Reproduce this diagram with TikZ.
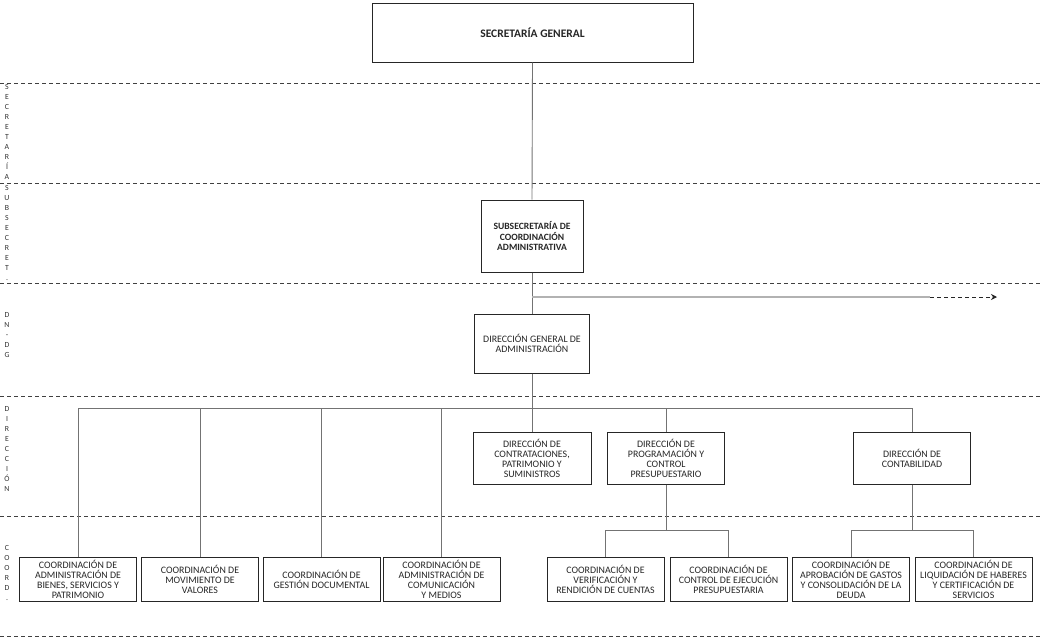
\documentclass[tikz,border=0pt]{standalone}
\usepackage{fontspec}
\setmainfont{Carlito}
\usetikzlibrary{arrows.meta}
\begin{document}
\begin{tikzpicture}[x=1pt,y=-1pt,
 box/.style={draw=black!85,line width=1pt,fill=white,align=center,inner sep=1pt,
   font=\fontsize{9.9}{10}\selectfont,text=black!85},
 bbox/.style={box,font=\fontsize{9.6}{10.5}\selectfont\bfseries},
 lane/.style={draw=black!75,dash pattern=on 4pt off 3pt,line width=0.9pt},
 conn/.style={draw=black!55,line width=0.9pt},
 side/.style={align=center,font=\fontsize{7.8}{10}\selectfont,inner sep=0pt,anchor=north,text=black!80}]
\useasboundingbox (0,0) rectangle (1040,641);
% lanes
\foreach \yy/\nm in {83/l1,183/l2,283/l3,396/l4,516/l5,636/l6}{
  \coordinate (\nm a) at (0,\yy);
  \coordinate (\nm b) at (1040,\yy);
  \draw[lane] (\nm a) -- (\nm b);
}
% side labels
\node[side] (s1) at (7,84.5) {S\\E\\C\\R\\E\\T\\A\\R\\Í\\A};
\node[side] (s2) at (7,185.5) {S\\U\\B\\S\\E\\C\\R\\E\\T\\.};
\node[side] (s3) at (7,312.5) {D\\N\\-\\D\\G};
\node[side] (s4) at (7,406.5) {D\\I\\R\\E\\C\\C\\I\\Ó\\N};
\node[side] (s5) at (7,545.5) {C\\O\\O\\R\\D\\.};
% boxes
\node[box,minimum width=321pt,minimum height=59pt,font=\fontsize{11.5}{13}\selectfont\bfseries] (sg) at (532.5,32.5) {SECRETARÍA GENERAL};
\node[bbox,minimum width=102pt,minimum height=72pt] (ssca) at (532,236) {SUBSECRETARÍA DE\\COORDINACIÓN\\ADMINISTRATIVA};
\node[box,minimum width=115pt,minimum height=59pt] (dga) at (532,343.5) {DIRECCIÓN GENERAL DE\\ADMINISTRACIÓN};
\node[box,minimum width=118pt,minimum height=52pt] (d1) at (532,458) {DIRECCIÓN DE\\CONTRATACIONES,\\PATRIMONIO Y\\SUMINISTROS};
\node[box,minimum width=117pt,minimum height=52pt] (d2) at (666,458) {DIRECCIÓN DE\\PROGRAMACIÓN Y\\CONTROL\\PRESUPUESTARIO};
\node[box,minimum width=117pt,minimum height=52pt] (d3) at (912,458) {DIRECCIÓN DE\\CONTABILIDAD};
\node[box,minimum width=117pt,minimum height=44pt] (c1) at (78,579) {COORDINACIÓN DE\\ADMINISTRACIÓN DE\\BIENES, SERVICIOS Y\\PATRIMONIO};
\node[box,minimum width=117pt,minimum height=44pt] (c2) at (200,579) {COORDINACIÓN DE\\MOVIMIENTO DE\\VALORES};
\node[box,minimum width=117pt,minimum height=44pt] (c3) at (321.5,579) {COORDINACIÓN DE\\GESTIÓN DOCUMENTAL};
\node[box,minimum width=117pt,minimum height=44pt] (c4) at (441.5,579) {COORDINACIÓN DE\\ADMINISTRACIÓN DE\\COMUNICACIÓN\\Y MEDIOS};
\node[box,minimum width=117pt,minimum height=44pt] (c5) at (605.5,579) {COORDINACIÓN DE\\VERIFICACIÓN Y\\RENDICIÓN DE CUENTAS};
\node[box,minimum width=117pt,minimum height=44pt] (c6) at (728.5,579) {COORDINACIÓN DE\\CONTROL DE EJECUCIÓN\\PRESUPUESTARIA};
\node[box,minimum width=117pt,minimum height=44pt] (c7) at (851,579) {COORDINACIÓN DE\\APROBACIÓN DE GASTOS\\Y CONSOLIDACIÓN DE LA\\DEUDA};
\node[box,minimum width=117pt,minimum height=44pt] (c8) at (973.5,579) {COORDINACIÓN DE\\LIQUIDACIÓN DE HABERES\\Y CERTIFICACIÓN DE\\SERVICIOS};
% connectors
\coordinate (br) at (532,297);
\coordinate (brm) at (930,297);
\coordinate (bre) at (997,297);
\coordinate (bus) at (532,408);
\coordinate (bus2) at (666,530);
\coordinate (bus3) at (912,530);
\draw[conn] (sg.south) -- (ssca.north);
\draw[conn] (ssca.south) -- (dga.north);
\draw[draw=black!30,line width=1.6pt] (br) -- (brm);
\draw[draw=black!85,line width=0.9pt,dash pattern=on 4pt off 3pt,-{Stealth[length=6pt,width=6pt]}] (brm) -- (bre);
\draw[conn] (dga.south) -- (bus);
\foreach \n in {c1,c2,c3,c4,d1,d2,d3}{\draw[conn] (bus) -| (\n.north);}
\draw[conn] (d2.south) -- (bus2);
\draw[conn] (bus2) -| (c5.north);
\draw[conn] (bus2) -| (c6.north);
\draw[conn] (d3.south) -- (bus3);
\draw[conn] (bus3) -| (c7.north);
\draw[conn] (bus3) -| (c8.north);
\end{tikzpicture}
\end{document}
